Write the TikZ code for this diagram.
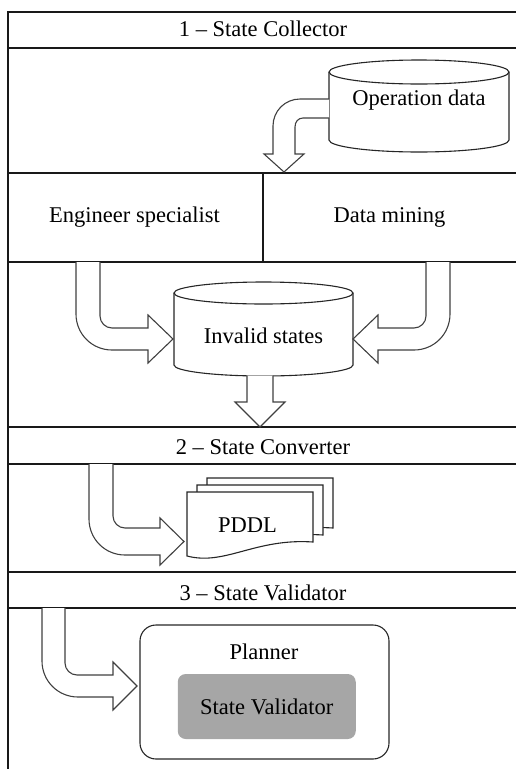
\documentclass[tikz,border=0pt]{standalone}
\usepackage{fontspec}
\setmainfont{Liberation Serif}
\begin{document}
\begin{tikzpicture}[x=1pt,y=-1pt,
  frame/.style={line width=1.4pt, draw=black!90},
  shapeline/.style={line width=1.1pt, draw=black!85, fill=white},
  blockarrow/.style={line width=1.1pt, draw=black!75, fill=white, line join=miter},
  lbl/.style={font=\fontsize{22.5}{27}\selectfont, inner sep=0pt, anchor=base},
  inner/.style={font=\fontsize{22.5}{27}\selectfont, fill=black!35, rounded corners=8pt,
    minimum width=178pt, minimum height=65pt, inner sep=0pt},
  outerbox/.style={draw=black!85, line width=1.1pt, rounded corners=16pt,
    minimum width=249pt, minimum height=134pt, inner sep=0pt}]
\useasboundingbox (0,0) rectangle (516,769);
\clip (0,0) rectangle (516,769);

% cylinder: centre x, top ellipse y, body bottom y, x radius, y radius
\newcommand{\drumshape}[5]{%
  \filldraw[shapeline] (#1-#4,#2) -- (#1-#4,#3)
    arc[start angle=180,end angle=360,x radius=#4pt,y radius=#5pt]
    -- (#1+#4,#2)
    arc[start angle=0,end angle=180,x radius=#4pt,y radius=#5pt] -- cycle;
  \draw[shapeline] (#1-#4,#2)
    arc[start angle=180,end angle=360,x radius=#4pt,y radius=#5pt];}
% one sheet of the document stack, given by its top-left corner
\newcommand{\sheet}[2]{%
  \filldraw[shapeline] (#1,#2) -- (#1+126,#2) -- (#1+126,#2+50)
    .. controls (#1+68,#2+46) and (#1+38,#2+74) .. (#1,#2+64) -- cycle;}

% swim-lane frame
\coordinate (tl) at (8,12);
\draw[frame] (8,769) -- (tl) -- (520,12);
\foreach \yy in {48,173,262,427,464,572,608}
  \draw[frame] (8,\yy) -- (520,\yy);
\draw[frame] (263,173) -- (263,262);

% lane titles
\node[lbl] (lane1) at (263,36) {1 – State Collector};
\node[lbl] (lane2) at (263,454) {2 – State Converter};
\node[lbl] (lane3) at (263,600) {3 – State Validator};

% sources
\node[lbl] (engineer) at (134.5,222) {Engineer specialist};
\node[lbl] (mining) at (389.5,222) {Data mining};

% operation data store
\drumshape{419}{72}{140}{90}{12}
\node[lbl] (opdata) at (419,105) {Operation data};

% invalid states store
\drumshape{263.5}{293}{365}{89.5}{11}
\node[lbl] (invalid) at (263.5,343) {Invalid states};

% operation data -> lower lane
\filldraw[blockarrow] (329,99) -- (300,99) .. controls (285,99) and (273,111) .. (273,126)
  -- (273,154) -- (264,154) -- (284,172) -- (304,154) -- (295,154) -- (295,127)
  .. controls (295,122) and (298,118) .. (303,118) -- (329,118);

% engineer specialist -> invalid states
\filldraw[blockarrow] (76,262) -- (76,314) .. controls (76,334) and (92,350) .. (112,350)
  -- (148,350) -- (148,363) -- (173,339) -- (148,315) -- (148,328) -- (112,328)
  .. controls (105.4,328) and (100,322.6) .. (100,316) -- (100,262);

% data mining -> invalid states
\filldraw[blockarrow] (450,262) -- (450,314) .. controls (450,334) and (434,350) .. (414,350)
  -- (378,350) -- (378,363) -- (353,339) -- (378,315) -- (378,328) -- (414,328)
  .. controls (420.6,328) and (426,322.6) .. (426,316) -- (426,262);

% invalid states -> converter lane
\filldraw[blockarrow] (247,375.5) -- (247,402) -- (235,402) -- (260,427) -- (285,402)
  -- (273,402) -- (273,375.5);

% PDDL document stack
\sheet{207}{478}
\sheet{197}{485}
\sheet{187}{492}
\node[lbl] (pddl) at (247.5,532) {PDDL};

% converter -> PDDL
\filldraw[blockarrow] (89,464) -- (89,519) .. controls (89,539) and (105,555) .. (125,555)
  -- (160,555) -- (160,565) -- (184,541.5) -- (160,518) -- (160,528) -- (125,528)
  .. controls (118.4,528) and (113,522.6) .. (113,516) -- (113,464);

% planner with embedded validator
\node[outerbox] (planner) at (264.5,692) {};
\node[lbl] (plannerlbl) at (264,659) {Planner};
\node[inner] (validator) at (266.75,706.5) {State Validator};

% validator lane -> planner
\filldraw[blockarrow] (42,608) -- (42,661) .. controls (42,681) and (58,697) .. (78,697)
  -- (113,697) -- (113,710) -- (137,686) -- (113,662) -- (113,675) -- (77,675)
  .. controls (70.4,675) and (65,669.6) .. (65,663) -- (65,608);
\end{tikzpicture}
\end{document}
